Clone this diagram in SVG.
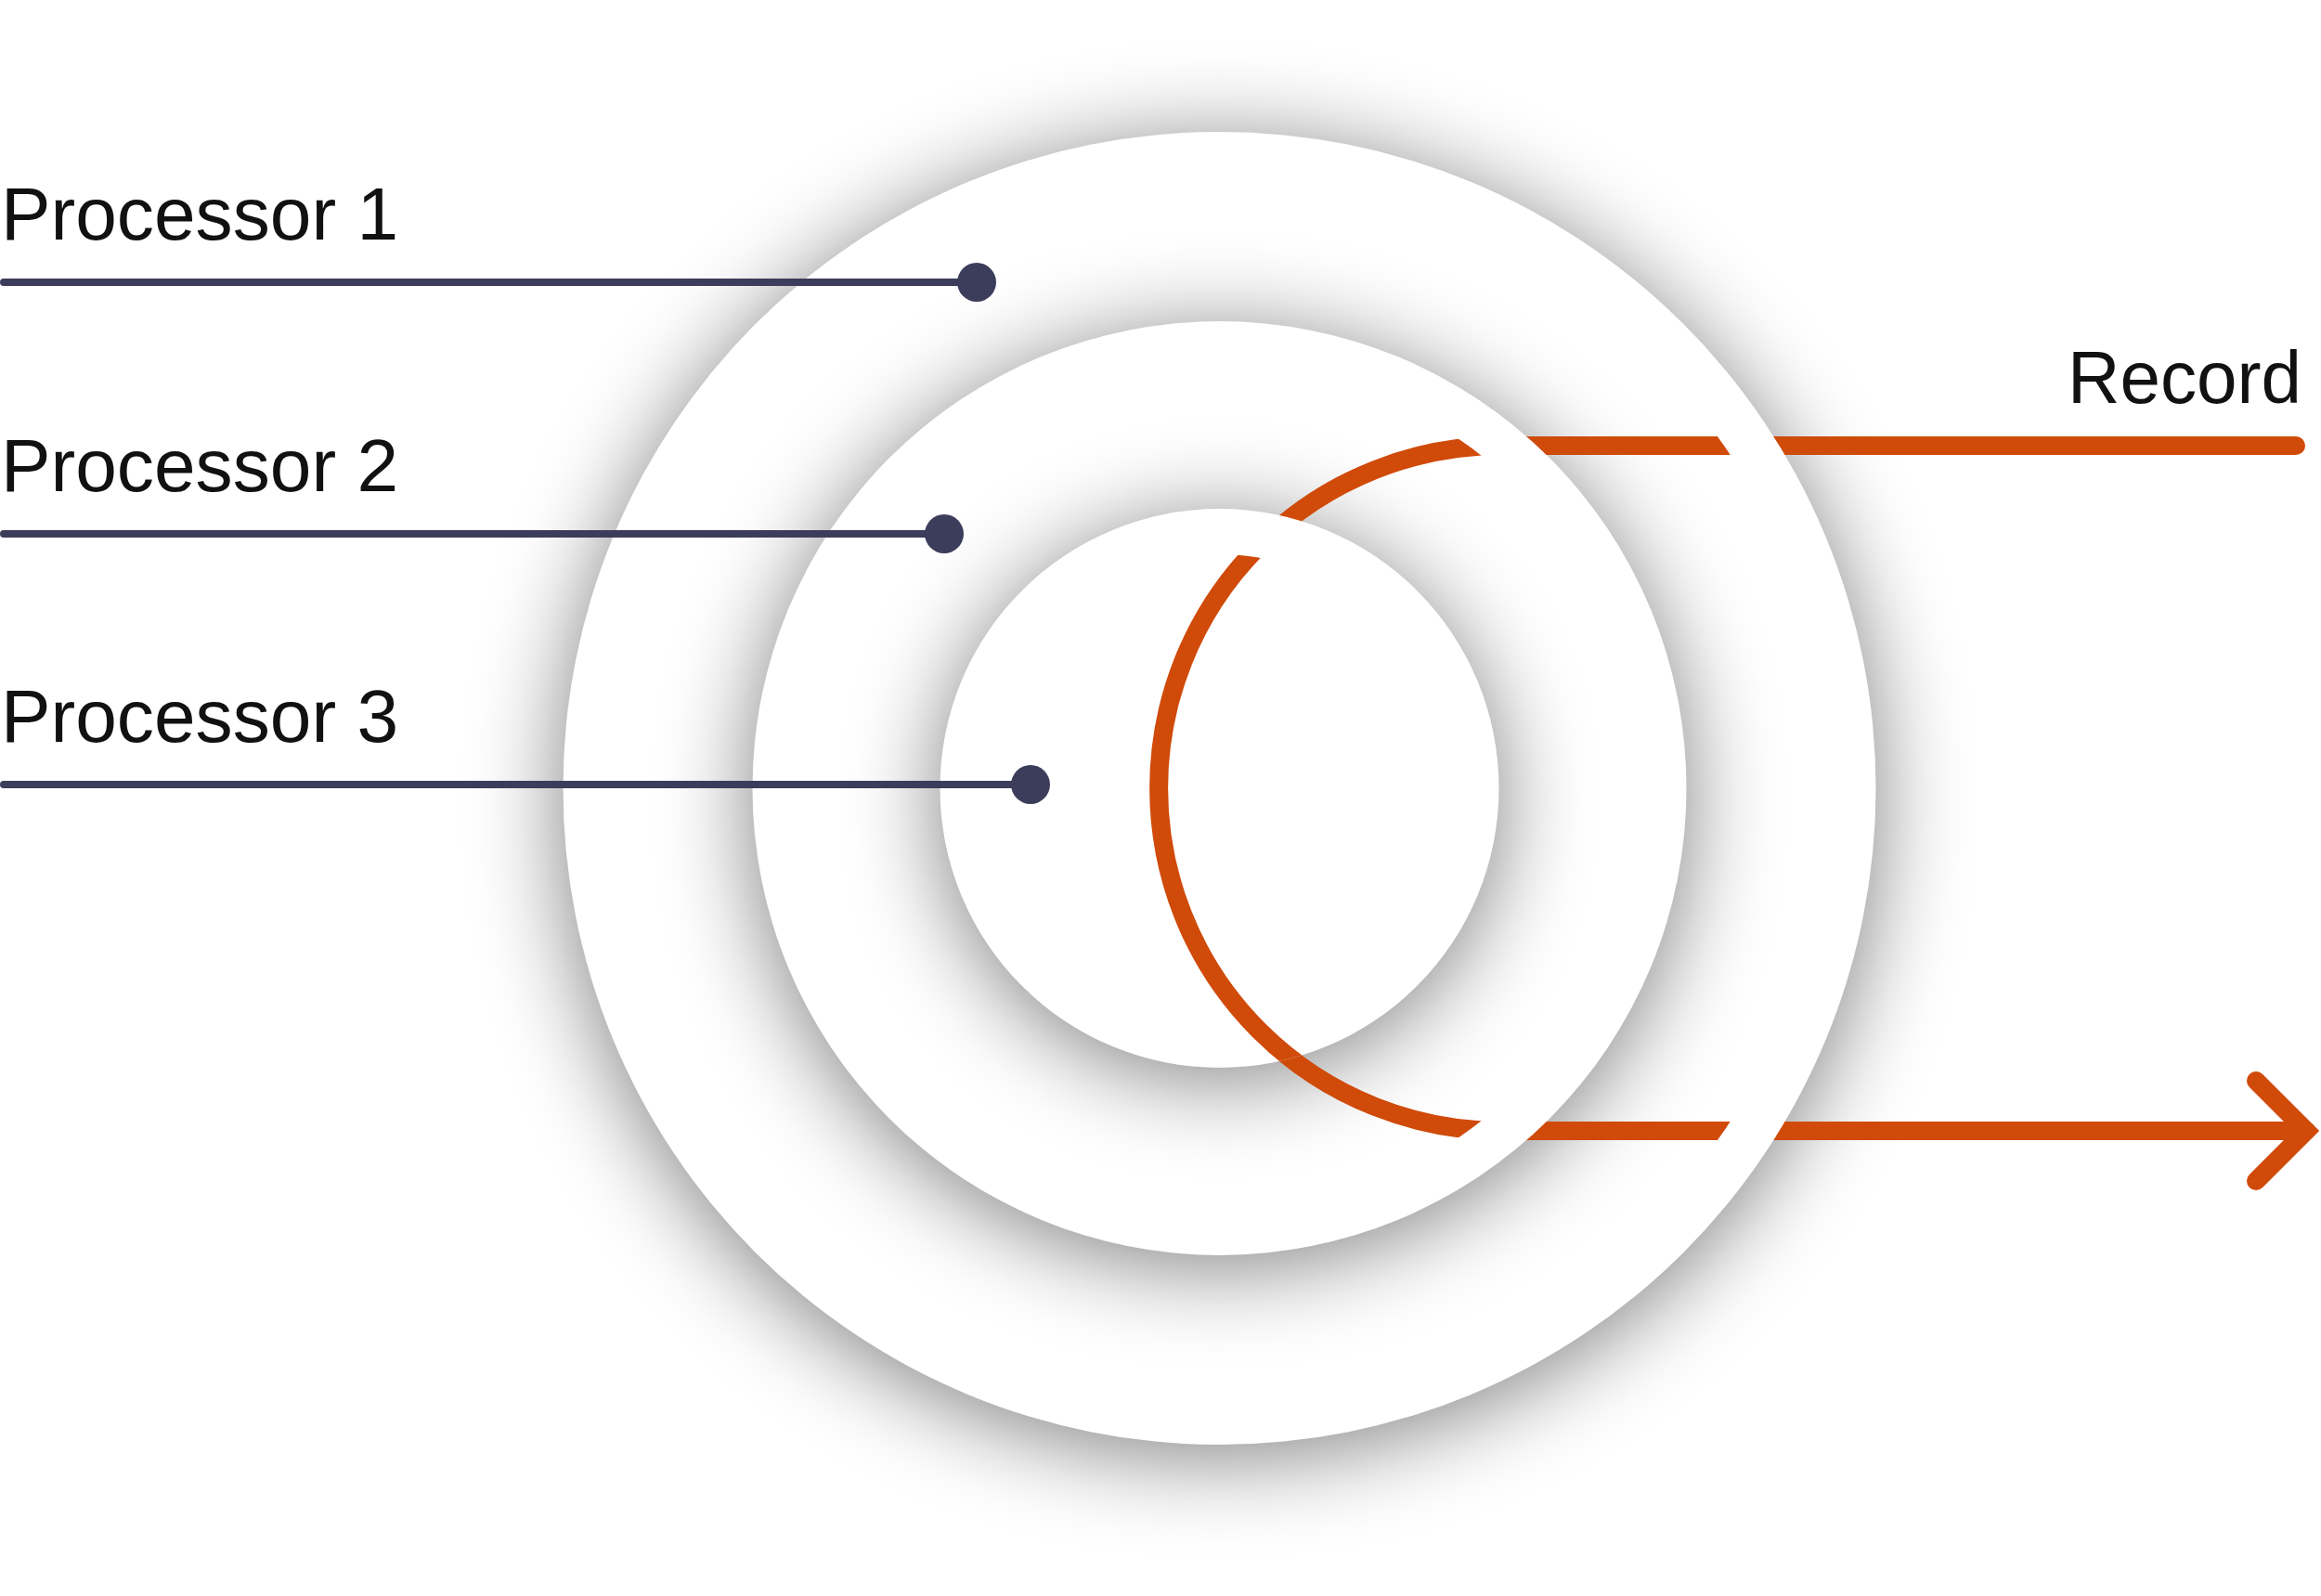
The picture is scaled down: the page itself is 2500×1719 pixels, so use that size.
<svg xmlns="http://www.w3.org/2000/svg" xmlns:xlink="http://www.w3.org/1999/xlink" width="2500" height="1719" viewBox="0 0 2500 1719">
<style>
.lbl{font-family:"Liberation Sans","Noto Sans",Arial,sans-serif;font-size:80px;fill:#111111}
.disk{fill:#ffffff}
.shadow{fill:#000000;opacity:0.5}
.orange{fill:none;stroke:#d04a0a;stroke-width:20;stroke-linecap:round;stroke-linejoin:miter}
.lead{fill:none;stroke:#3c3d5b;stroke-width:8;stroke-linecap:round}
.dot{fill:#3c3d5b}
</style>
<defs>
<filter id="blur" x="-30%" y="-30%" width="160%" height="160%">
<feGaussianBlur stdDeviation="50"/>
</filter>
<g id="recordPath">
<path class="orange" d="M2473,480 H1617 A369,369 0 0 0 1617,1218 H2484"/>
<path class="orange" d="M2430,1164 L2484,1218 L2430,1272"/>
</g>
<clipPath id="clipOuter"><circle cx="1313.5" cy="849" r="657"/></clipPath>
<clipPath id="clipMiddle"><circle cx="1313.5" cy="849" r="456"/></clipPath>
<clipPath id="clipInnerDisk"><circle cx="1313.5" cy="849" r="301"/></clipPath>
<clipPath id="clipInnerGap"><circle cx="1313.5" cy="849" r="252"/><rect x="0" y="849" width="2500" height="870"/></clipPath>
</defs>
<rect x="0" y="0" width="2500" height="1719" fill="#ffffff"/>

<g id="outer-ring">
<circle class="shadow" cx="1313.5" cy="861" r="707" filter="url(#blur)"/>
</g>
<g id="connectors-outside">
<use xlink:href="#recordPath"/>
</g>
<g id="outer-disk">
<circle class="disk" cx="1313.5" cy="849" r="707"/>
</g>

<g id="middle-ring">
<circle class="shadow" cx="1313.5" cy="861" r="503" filter="url(#blur)"/>
</g>
<g id="connectors-outer-ring" clip-path="url(#clipOuter)">
<use xlink:href="#recordPath"/>
</g>
<g id="middle-disk">
<circle class="disk" cx="1313.5" cy="849" r="503"/>
</g>

<g id="inner-ring">
<circle class="shadow" cx="1313.5" cy="861" r="301" filter="url(#blur)"/>
</g>
<g id="connectors-middle-ring" clip-path="url(#clipMiddle)">
<use xlink:href="#recordPath"/>
</g>
<g id="inner-disk">
<circle class="disk" cx="1313.5" cy="849" r="301"/>
</g>
<g id="connectors-inner" clip-path="url(#clipInnerDisk)">
<g clip-path="url(#clipInnerGap)">
<use xlink:href="#recordPath"/>
</g>
</g>

<g id="processor-1">
<text class="lbl" x="1" y="258" textLength="428" lengthAdjust="spacingAndGlyphs">Processor 1</text>
<line class="lead" x1="4" y1="304" x2="1052" y2="304"/>
<circle class="dot" cx="1052" cy="304" r="21"/>
</g>
<g id="processor-2">
<text class="lbl" x="1" y="529" textLength="428" lengthAdjust="spacingAndGlyphs">Processor 2</text>
<line class="lead" x1="4" y1="575" x2="1017" y2="575"/>
<circle class="dot" cx="1017" cy="575" r="21"/>
</g>
<g id="processor-3">
<text class="lbl" x="1" y="799" textLength="428" lengthAdjust="spacingAndGlyphs">Processor 3</text>
<line class="lead" x1="4" y1="845" x2="1110" y2="845"/>
<circle class="dot" cx="1110" cy="845" r="21"/>
</g>
<g id="record">
<text class="lbl" x="2227" y="434" textLength="252" lengthAdjust="spacingAndGlyphs">Record</text>
</g>
</svg>
